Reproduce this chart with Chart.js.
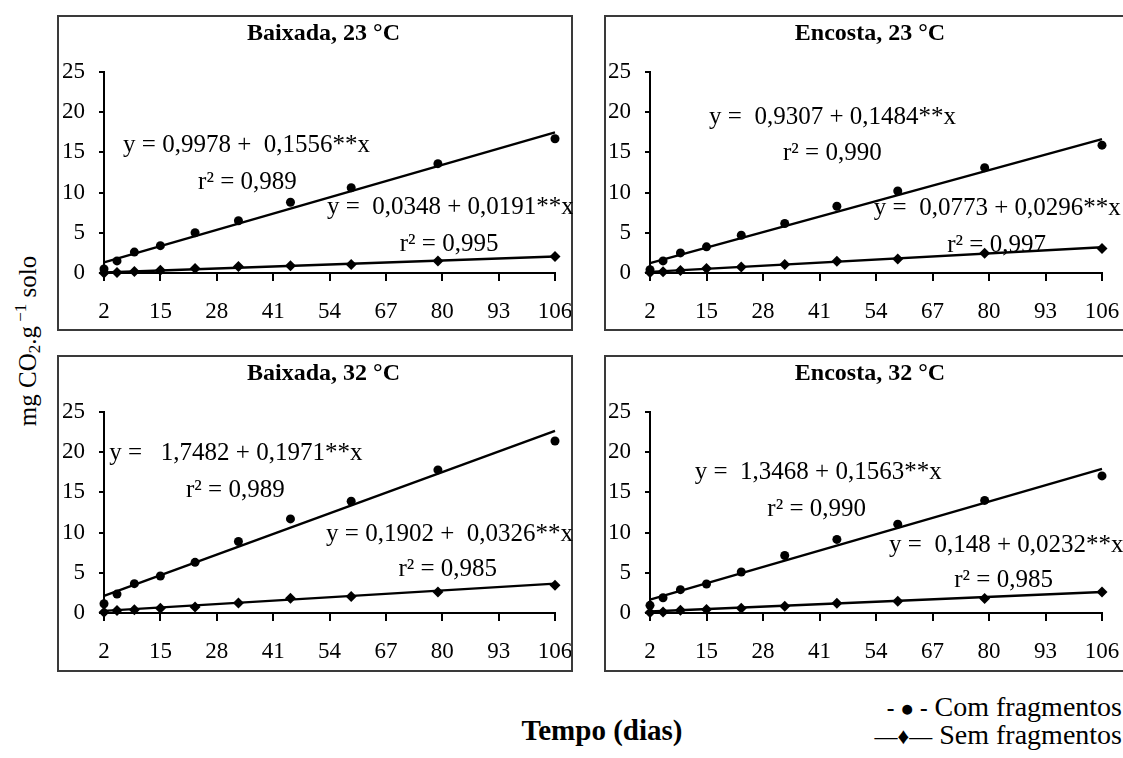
<!DOCTYPE html>
<html>
<head>
<meta charset="utf-8">
<script src="https://cdn.jsdelivr.net/npm/chart.js@4/dist/chart.umd.min.js"></script>
<style>
  html,body{margin:0;padding:0;background:#fff;}
  body{width:1123px;height:758px;overflow:hidden;position:relative;font-family:"Liberation Serif","Times New Roman",serif;color:#000;}
  .panel{position:absolute;}
  #ylab{position:absolute;left:27px;top:341px;transform:translate(-50%,-50%) rotate(-90deg);white-space:nowrap;font-size:25px;line-height:1;}
  #ylab sub{font-size:17px;vertical-align:-4px;line-height:0;}
  #ylab sup{font-size:17px;vertical-align:10px;line-height:0;}
  #xlab{position:absolute;left:602px;top:730px;transform:translate(-50%,-50%);font-weight:bold;font-size:29px;white-space:nowrap;line-height:1;}
  .leg{position:absolute;right:1px;white-space:nowrap;font-size:28px;line-height:1;transform:translateY(-50%);}
  .leg .m{font-size:23px;font-weight:bold;}
</style>
</head>
<body>
<div id="ylab">mg CO<sub>2</sub>.g<sup> &minus;1</sup> solo</div>
<div id="xlab">Tempo (dias)</div>
<div class="leg" style="top:707px;"><span class="m">- ● -</span> Com fragmentos</div>
<div class="leg" style="top:735px;"><span class="m" style="font-weight:normal">—♦—</span> Sem fragmentos</div>

<div class="panel" style="left:57px;top:15px;"><canvas id="c0" width="516" height="316"></canvas></div>
<div class="panel" style="left:604px;top:15px;"><canvas id="c1" width="522" height="316"></canvas></div>
<div class="panel" style="left:57px;top:355px;"><canvas id="c2" width="516" height="317"></canvas></div>
<div class="panel" style="left:604px;top:355px;"><canvas id="c3" width="522" height="317"></canvas></div>

<script>
// ---------- data ----------
const days = [2, 5, 9, 15, 23, 33, 45, 59, 79, 106];
const xTickValues = [2, 15, 28, 41, 54, 67, 80, 93, 106];
const yTickValues = [0, 5, 10, 15, 20, 25];

const panelTitles = ["Baixada, 23 °C", "Encosta, 23 °C", "Baixada, 32 °C", "Encosta, 32 °C"];

const baixada23Com = [0.5, 1.5, 2.6, 3.4, 5.0, 6.5, 8.8, 10.6, 13.6, 16.7];
const baixada23Sem = [0.0, 0.05, 0.2, 0.35, 0.55, 0.8, 0.9, 1.05, 1.5, 2.05];
const encosta23Com = [0.4, 1.5, 2.5, 3.25, 4.7, 6.15, 8.3, 10.2, 13.1, 15.9];
const encosta23Sem = [0.05, 0.15, 0.3, 0.55, 0.75, 1.05, 1.45, 1.75, 2.45, 3.05];
const baixada32Com = [1.15, 2.35, 3.65, 4.6, 6.3, 8.9, 11.7, 13.9, 17.8, 21.4];
const baixada32Sem = [0.1, 0.3, 0.4, 0.6, 0.75, 1.25, 1.85, 2.05, 2.6, 3.45];
const encosta32Com = [0.95, 1.9, 2.9, 3.6, 5.1, 7.15, 9.15, 11.05, 14.0, 17.05];
const encosta32Sem = [0.05, 0.12, 0.35, 0.45, 0.6, 0.85, 1.2, 1.45, 1.8, 2.6];

// fitted lines: values at day 2 and day 106
const fitDays = [2, 106];
const baixada23ComFit = [1.31, 17.49];
const baixada23SemFit = [0.07, 2.06];
const encosta23ComFit = [1.23, 16.66];
const encosta23SemFit = [0.14, 3.21];
const baixada32ComFit = [2.14, 22.64];
const baixada32SemFit = [0.26, 3.65];
const encosta32ComFit = [1.66, 17.92];
const encosta32SemFit = [0.19, 2.61];

const eqTexts = [
  ["y = 0,9978 +  0,1556**x", "r² = 0,989", "y =  0,0348 + 0,0191**x", "r² = 0,995"],
  ["y =  0,9307 + 0,1484**x", "r² = 0,990", "y =  0,0773 + 0,0296**x", "r² = 0,997"],
  ["y =   1,7482 + 0,1971**x", "r² = 0,989", "y = 0,1902 +  0,0326**x", "r² = 0,985"],
  ["y =  1,3468 + 0,1563**x", "r² = 0,990", "y =  0,148 + 0,0232**x", "r² = 0,985"]
];

// ---------- layout (positions / styles) ----------
const eqPos = [
  [[6.4, 15.9], [23.7, 11.3], [53.4, 8.1], [70.2, 3.5]],
  [[15.6, 19.4], [32.6, 14.9], [53.5, 8.0], [70.4, 3.4]],
  [[3.2, 19.8], [20.9, 15.3], [53.2, 9.8], [69.9, 5.4]],
  [[12.3, 17.5], [29.0, 12.9], [57.0, 8.4], [72.0, 4.0]]
];
const FONT = "'Liberation Serif', 'Times New Roman', serif";

const panels = [
  {id: 'c0', com: baixada23Com, sem: baixada23Sem, comFit: baixada23ComFit, semFit: baixada23SemFit, yW: 47, padR: 18, xH: 58},
  {id: 'c1', com: encosta23Com, sem: encosta23Sem, comFit: encosta23ComFit, semFit: encosta23SemFit, yW: 46, padR: 24, xH: 58},
  {id: 'c2', com: baixada32Com, sem: baixada32Sem, comFit: baixada32ComFit, semFit: baixada32SemFit, yW: 47, padR: 18, xH: 59},
  {id: 'c3', com: encosta32Com, sem: encosta32Sem, comFit: encosta32ComFit, semFit: encosta32SemFit, yW: 46, padR: 24, xH: 59}
];

const toPts = (xs, ys) => xs.map((x, i) => ({x: x, y: ys[i]}));

const decoPlugin = {
  id: 'deco',
  afterDraw(chart, args, opts) {
    const ctx = chart.ctx;
    const ca = chart.chartArea;
    const xs = chart.scales.x, ys = chart.scales.y;
    ctx.save();
    // panel frame
    ctx.strokeStyle = '#3a3a3a';
    ctx.lineWidth = 2;
    ctx.strokeRect(1, 1, chart.width - 2, chart.height - 2);
    // title
    ctx.fillStyle = '#000';
    ctx.font = "bold 24px " + FONT;
    ctx.textAlign = 'center';
    ctx.textBaseline = 'middle';
    ctx.fillText(panelTitles[opts.idx], (ca.left + ca.right) / 2 - 6, 19);
    // equations
    ctx.font = "25px " + FONT;
    ctx.textAlign = 'left';
    eqTexts[opts.idx].forEach((t, k) => {
      const p = eqPos[opts.idx][k];
      ctx.fillText(t, xs.getPixelForValue(p[0]), ys.getPixelForValue(p[1]));
    });
    ctx.restore();
  }
};

panels.forEach((p, idx) => {
  new Chart(document.getElementById(p.id), {
    type: 'scatter',
    data: {
      datasets: [
        {label: 'Com fragmentos', data: toPts(days, p.com), pointStyle: 'circle', pointRadius: 4.5,
         backgroundColor: '#000', borderColor: '#000', borderWidth: 0, showLine: false, order: 2},
        {label: 'Sem fragmentos', data: toPts(days, p.sem), pointStyle: 'rectRot', pointRadius: 5.5,
         backgroundColor: '#000', borderColor: '#000', borderWidth: 0, showLine: false, order: 2},
        {label: 'fit com', data: toPts(fitDays, p.comFit), showLine: true, pointRadius: 0,
         borderColor: '#000', borderWidth: 2.4, order: 1},
        {label: 'fit sem', data: toPts(fitDays, p.semFit), showLine: true, pointRadius: 0,
         borderColor: '#000', borderWidth: 2.4, order: 1}
      ]
    },
    options: {
      responsive: false,
      animation: false,
      devicePixelRatio: 1,
      clip: false,
      layout: {padding: {left: 0, right: p.padR, top: 57, bottom: 0}},
      plugins: {legend: {display: false}, tooltip: {enabled: false}, title: {display: false}, deco: {idx: idx}},
      scales: {
        x: {
          type: 'linear', min: 2, max: 106,
          afterBuildTicks: s => { s.ticks = xTickValues.map(v => ({value: v})); },
          afterFit: s => { s.height = p.xH; s.paddingLeft = 0; s.paddingRight = 0; },
          grid: {display: true, drawOnChartArea: false, drawTicks: true, tickLength: 8, color: '#000', lineWidth: 2},
          border: {display: true, color: '#000', width: 2},
          ticks: {color: '#000', font: {family: FONT, size: 23}, padding: 17, maxRotation: 0, autoSkip: false}
        },
        y: {
          type: 'linear', min: 0, max: 25,
          afterBuildTicks: s => { s.ticks = yTickValues.map(v => ({value: v})); },
          afterFit: s => { s.width = p.yW; s.paddingTop = 0; s.paddingBottom = 0; },
          grid: {display: true, drawOnChartArea: false, drawTicks: true, tickLength: 5, color: '#000', lineWidth: 2},
          border: {display: true, color: '#000', width: 2},
          ticks: {color: '#000', font: {family: FONT, size: 23}, padding: 14}
        }
      }
    },
    plugins: [decoPlugin]
  });
});
</script>
</body>
</html>
